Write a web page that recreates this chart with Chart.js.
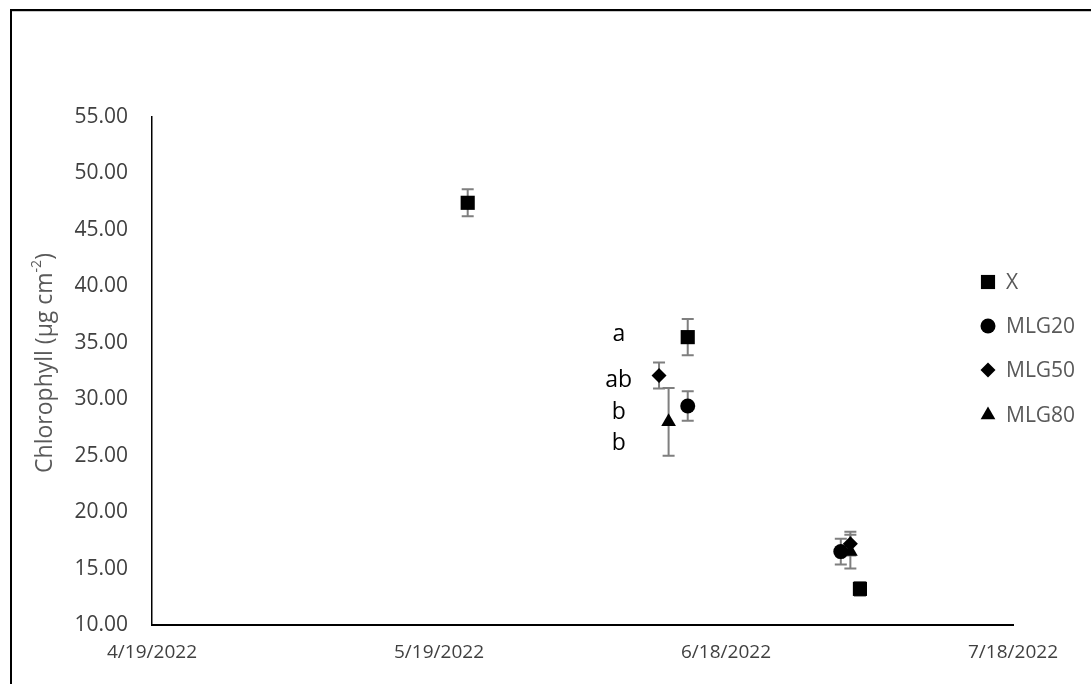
<!DOCTYPE html>
<html>
<head>
<meta charset="utf-8">
<title>Chlorophyll</title>
<script src="https://cdn.jsdelivr.net/npm/chart.js@4.4.1/dist/chart.umd.min.js"></script>
<style>
  html, body { margin: 0; padding: 0; background: #fff; overflow: hidden; }
  #frame {
    position: absolute; left: 10px; top: 9px; width: 1200px; height: 800px;
    border-left: 2px solid #000; border-top: 2px solid #000;
    box-shadow: inset 0 1px 0 #c8c8c8;
  }
  #chart { position: absolute; left: 0; top: 0; }
</style>
</head>
<body>
<div id="frame"></div>
<canvas id="chart" width="1091" height="684"></canvas>
<script>
// series data (dates as m/d/yyyy, values in µg cm-2, error = +/- half bar)
const seriesNames = ['X', 'MLG20', 'MLG50', 'MLG80'];

const xDates = ['5/22/2022', '6/14/2022', '7/2/2022'];
const xValues = [47.4, 35.5, 13.2];
const xErrors = [1.2, 1.6, 0.6];

const mlg20Dates = ['6/14/2022', '6/30/2022'];
const mlg20Values = [29.4, 16.5];
const mlg20Errors = [1.3, 1.15];

const mlg50Dates = ['6/11/2022', '7/1/2022'];
const mlg50Values = [32.1, 17.2];
const mlg50Errors = [1.15, 1.05];

const mlg80Dates = ['6/12/2022', '7/1/2022'];
const mlg80Values = [28.0, 16.5];
const mlg80Errors = [3.0, 1.5];

// significance letters next to the June cluster
const letterLabels = ['a', 'ab', 'b', 'b'];
const letterValues = [35.7, 31.7, 28.8, 26.1];
const letterDate = '6/7/2022';

// axis ticks
const xTickLabels = ['4/19/2022', '5/19/2022', '6/18/2022', '7/18/2022'];
const yMin = 10, yMax = 55, yStep = 5;

const baseDate = new Date(2022, 3, 19);
function toDay(s) {
    const [m, d, y] = s.split('/').map(Number);
    return Math.round((new Date(y, m - 1, d) - baseDate) / 86400000);
}
function toPoints(dates, values) {
    return dates.map((d, i) => ({ x: toDay(d), y: values[i] }));
}

const errorSets = [xErrors, mlg20Errors, mlg50Errors, mlg80Errors];
const styles = ['rect', 'circle', 'rectRot', 'triangle'];
const radii = [10, 7.5, 7.5, 8.5];

Chart.defaults.font.family = "'Open Sans', sans-serif";

// error bars drawn under the markers
const errorBars = {
    id: 'errorBars',
    beforeDatasetsDraw(chart) {
        const ctx = chart.ctx;
        const yScale = chart.scales.y;
        ctx.save();
        ctx.strokeStyle = '#7f7f7f';
        ctx.lineWidth = 2;
        chart.data.datasets.forEach((ds, i) => {
            const meta = chart.getDatasetMeta(i);
            meta.data.forEach((pt, j) => {
                const v = ds.data[j].y;
                const e = errorSets[i][j];
                const top = yScale.getPixelForValue(v + e);
                const bot = yScale.getPixelForValue(v - e);
                ctx.beginPath();
                ctx.moveTo(pt.x, top); ctx.lineTo(pt.x, bot);
                ctx.moveTo(pt.x - 6, top); ctx.lineTo(pt.x + 6, top);
                ctx.moveTo(pt.x - 6, bot); ctx.lineTo(pt.x + 6, bot);
                ctx.stroke();
            });
        });
        ctx.restore();
    }
};

// letters, y-axis title and legend
const extras = {
    id: 'extras',
    afterDraw(chart) {
        const ctx = chart.ctx;
        const xs = chart.scales.x, ys = chart.scales.y;
        const area = chart.chartArea;
        ctx.save();

        ctx.fillStyle = '#000';
        ctx.font = "23px 'Open Sans', sans-serif";
        ctx.textAlign = 'center';
        ctx.textBaseline = 'middle';
        const lx = xs.getPixelForValue(toDay(letterDate));
        letterLabels.forEach((t, i) => {
            ctx.fillText(t, lx - 2, ys.getPixelForValue(letterValues[i]));
        });

        // rotated axis title with superscript
        ctx.save();
        ctx.translate(45, (area.top + area.bottom) / 2 - 8);
        ctx.rotate(-Math.PI / 2);
        ctx.fillStyle = '#595959';
        ctx.textBaseline = 'middle';
        ctx.textAlign = 'left';
        const main = 'Chlorophyll (µg cm';
        const sup = '-2';
        const tail = ')';
        ctx.font = "23px 'Open Sans', sans-serif";
        const w1 = ctx.measureText(main).width;
        const w3 = ctx.measureText(tail).width;
        ctx.font = "14px 'Open Sans', sans-serif";
        const w2 = ctx.measureText(sup).width;
        let x0 = -(w1 + w2 + w3) / 2;
        ctx.font = "23px 'Open Sans', sans-serif";
        ctx.fillText(main, x0, 0);
        ctx.font = "14px 'Open Sans', sans-serif";
        ctx.fillText(sup, x0 + w1, -8);
        ctx.font = "23px 'Open Sans', sans-serif";
        ctx.fillText(tail, x0 + w1 + w2, 0);
        ctx.restore();

        // legend
        const legendY = [282, 326, 370, 415];
        const legendR = [10, 7.5, 7.5, 8.5];
        ctx.font = "21px 'Open Sans', sans-serif";
        ctx.textAlign = 'left';
        ctx.textBaseline = 'middle';
        seriesNames.forEach((name, i) => {
            ctx.fillStyle = '#000';
            ctx.strokeStyle = '#000';
            ctx.lineWidth = 0;
            Chart.helpers.drawPoint(ctx, { pointStyle: styles[i], radius: legendR[i], borderWidth: 0 }, 988, legendY[i]);
            ctx.fillStyle = '#595959';
            ctx.fillText(name, 1006, legendY[i] + 1);
        });
        ctx.restore();
    }
};

const datasets = [
    toPoints(xDates, xValues),
    toPoints(mlg20Dates, mlg20Values),
    toPoints(mlg50Dates, mlg50Values),
    toPoints(mlg80Dates, mlg80Values)
].map((pts, i) => ({
    label: seriesNames[i],
    data: pts,
    pointStyle: styles[i],
    pointRadius: radii[i],
    pointHoverRadius: radii[i],
    backgroundColor: '#000',
    borderColor: '#000',
    borderWidth: 0,
    showLine: false
}));

new Chart(document.getElementById('chart'), {
    type: 'scatter',
    data: { datasets: datasets },
    plugins: [errorBars, extras],
    options: {
        responsive: false,
        animation: false,
        layout: { padding: { left: 0, top: 117, right: 78, bottom: 0 } },
        plugins: {
            legend: { display: false },
            tooltip: { enabled: false }
        },
        scales: {
            x: {
                type: 'linear',
                min: toDay(xTickLabels[0]),
                max: toDay(xTickLabels[xTickLabels.length - 1]),
                afterBuildTicks(scale) {
                    scale.ticks = xTickLabels.map(t => ({ value: toDay(t) }));
                },
                afterFit(scale) { scale.height = 59; },
                grid: { display: false, drawTicks: false },
                border: { display: true, color: '#000', width: 2 },
                ticks: {
                    padding: 16,
                    maxRotation: 0,
                    color: '#404040',
                    font: { size: 19 },
                    callback: (v, i) => xTickLabels[i]
                }
            },
            y: {
                min: yMin,
                max: yMax,
                afterFit(scale) { scale.width = 152; },
                grid: { display: false, drawTicks: false },
                border: { display: true, color: '#000', width: 1.5 },
                ticks: {
                    stepSize: yStep,
                    padding: 24,
                    color: '#404040',
                    font: { size: 21 },
                    callback: v => v.toFixed(2)
                }
            }
        }
    }
});
</script>
</body>
</html>
